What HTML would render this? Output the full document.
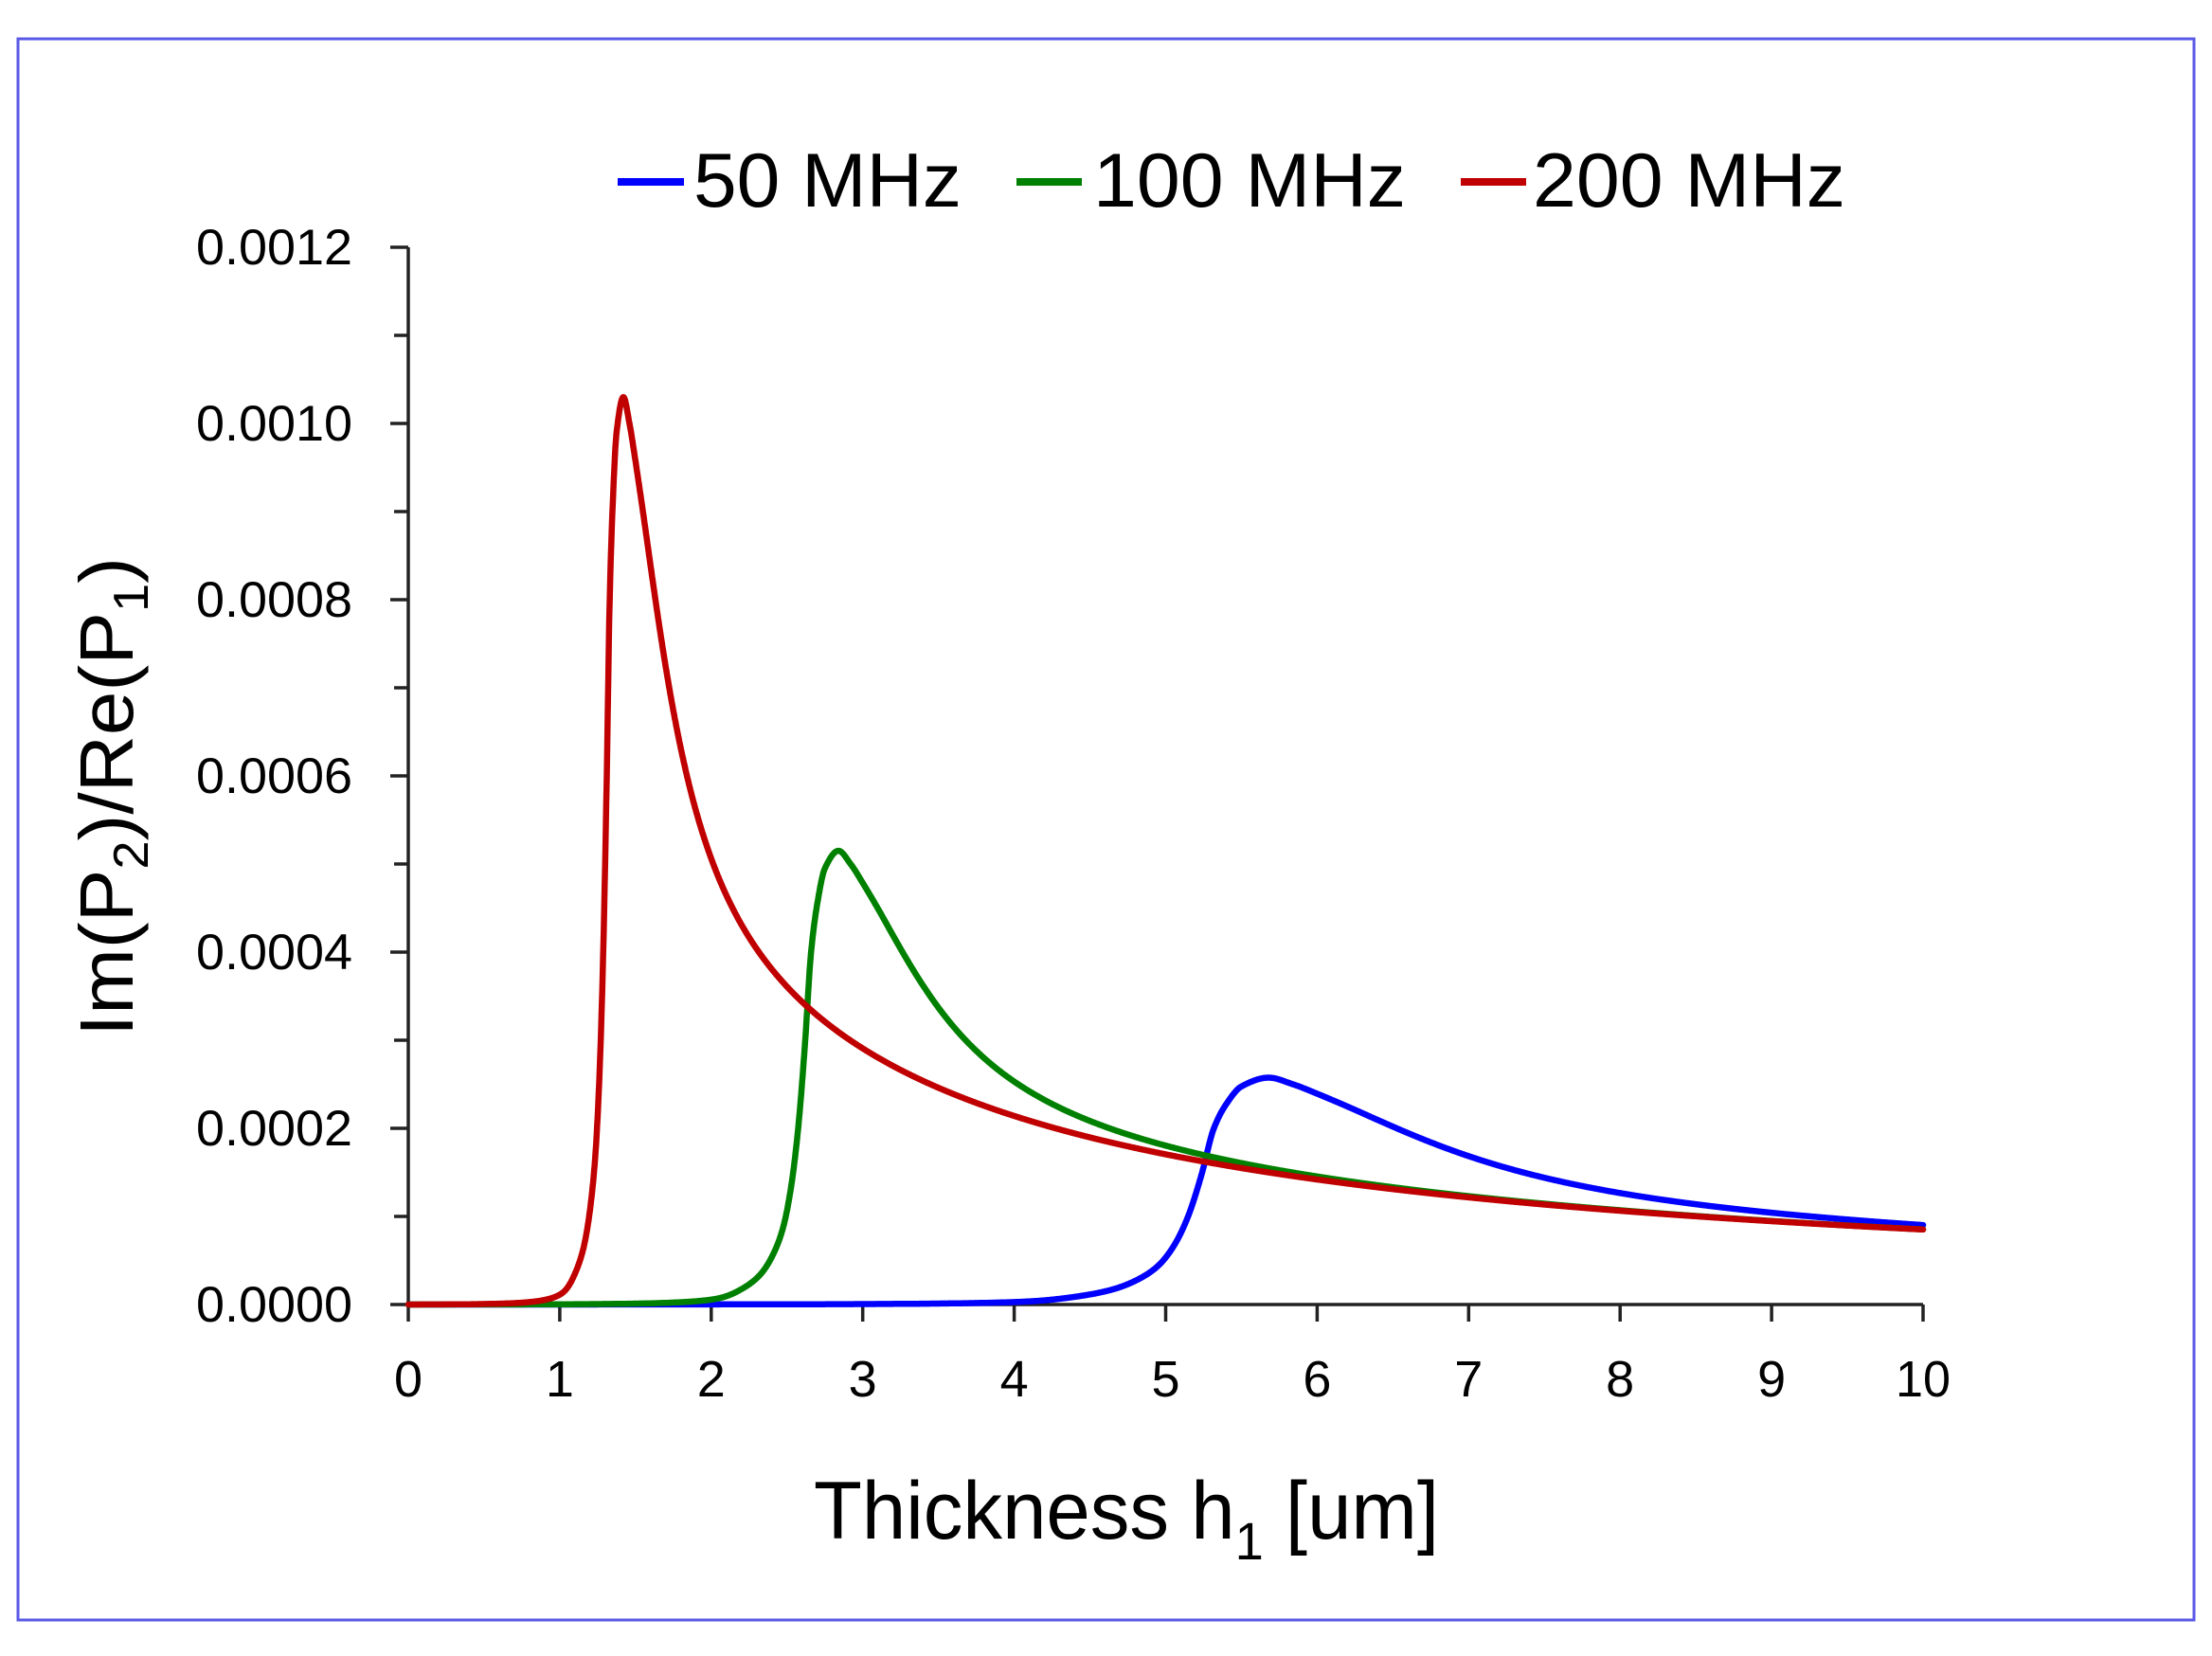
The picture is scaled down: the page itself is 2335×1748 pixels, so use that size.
<!DOCTYPE html>
<html><head><meta charset="utf-8"><style>
html,body{margin:0;padding:0;background:#fff;}
svg{display:block;}
text{font-family:"Liberation Sans",sans-serif;fill:#000;}
</style></head><body>
<svg id="s" width="2335" height="1748" viewBox="0 0 2335 1748" xmlns="http://www.w3.org/2000/svg">
<rect x="0" y="0" width="2335" height="1748" fill="#fff"/>
<rect x="19" y="41" width="2297" height="1669" fill="none" stroke="#5a5ae6" stroke-width="3"/>
<line x1="652" y1="192" x2="722" y2="192" stroke="#0000ff" stroke-width="8"/>
<text x="732" y="218" font-size="81" textLength="283" lengthAdjust="spacingAndGlyphs">50 MHz</text>
<line x1="1073" y1="192" x2="1142" y2="192" stroke="#008000" stroke-width="8"/>
<text x="1154" y="218" font-size="81" textLength="330" lengthAdjust="spacingAndGlyphs">100 MHz</text>
<line x1="1542" y1="192" x2="1611" y2="192" stroke="#c00000" stroke-width="8"/>
<text x="1618" y="218" font-size="81" textLength="330" lengthAdjust="spacingAndGlyphs">200 MHz</text>
<g id="axes" stroke="#222" stroke-width="3.5" fill="none"></g>
<g id="ylab" font-size="53" text-anchor="end"></g>
<g id="xlab" font-size="54" text-anchor="middle"></g>
<g id="curves" fill="none" stroke-width="6.5" stroke-linejoin="round" stroke-linecap="round"></g>
<text x="859" y="1624" font-size="86" textLength="660" lengthAdjust="spacingAndGlyphs">Thickness h<tspan font-size="56" dy="22">1</tspan><tspan dy="-22"> [um]</tspan></text>
<text transform="translate(140,1094) rotate(-90)" font-size="80" textLength="506" lengthAdjust="spacingAndGlyphs">Im(P<tspan font-size="52" dy="16">2</tspan><tspan dy="-16">)/Re(P</tspan><tspan font-size="52" dy="16">1</tspan><tspan dy="-16">)</tspan></text>
</svg>
<script>
(function(){
var NS="http://www.w3.org/2000/svg";
var X0=431,XU=159.9,Y0=1377,YU=186/0.0002;
function px(h){return X0+h*XU;}
function py(v){return Y0-v*YU;}
function el(t,a,p){var e=document.createElementNS(NS,t);for(var k in a)e.setAttribute(k,a[k]);p.appendChild(e);return e;}
var ax=document.getElementById('axes');
el('line',{x1:X0,y1:261,x2:X0,y2:Y0},ax);
el('line',{x1:X0,y1:Y0,x2:px(10),y2:Y0},ax);
for(var i=0;i<=12;i++){var y=py(i*0.0001);el('line',{x1:(i%2==0?412:416),y1:y,x2:X0,y2:y},ax);}
for(var i=0;i<=10;i++){var x=px(i);el('line',{x1:x,y1:Y0,x2:x,y2:1395},ax);}
var yl=document.getElementById('ylab');
for(var i=0;i<=6;i++){var t=el('text',{x:372,y:py(i*0.0002)+18,textLength:165,lengthAdjust:'spacingAndGlyphs'},yl);t.textContent=(i*0.0002).toFixed(4);}
var xl=document.getElementById('xlab');
for(var i=0;i<=10;i++){var t=el('text',{x:px(i),y:1474},xl);if(i==10){t.setAttribute('textLength',58);t.setAttribute('lengthAdjust','spacingAndGlyphs');}t.textContent=i;}
function dec(u){var d=(u-1.42)/0.36;return 8.55e-4/(u+0.054)*(1+0.776/(1+d*d));}
var P=[[0.3,2e-7],[0.5,6e-7],[0.7,1.6e-6],[0.85,3.8e-6],[0.95,7.5e-6],[1.016,1.3e-5],[1.1,3.5e-5],[1.163,6.9e-5],[1.2,1.08e-4],[1.236,1.72e-4],[1.262,2.6e-4],[1.284,3.8e-4],[1.309,5.88e-4],[1.329,7.96e-4],[1.35,9.1e-4],[1.375,9.9e-4],[1.42,1.03e-3],[1.46,1.0e-3]];
for(var u=1.5;u<=10.001;u+=0.05)P.push([u,dec(u)]);
var n=P.length,xs=P.map(function(p){return p[0]}),ys=P.map(function(p){return Math.log(p[1])});
var d=[],m=[];
for(var i=0;i<n-1;i++)d.push((ys[i+1]-ys[i])/(xs[i+1]-xs[i]));
m[0]=d[0];m[n-1]=d[n-2];
for(var i=1;i<n-1;i++){if(d[i-1]*d[i]<=0)m[i]=0;else{var w1=2*(xs[i+1]-xs[i])+(xs[i]-xs[i-1]),w2=(xs[i+1]-xs[i])+2*(xs[i]-xs[i-1]);m[i]=(w1+w2)/(w1/d[i-1]+w2/d[i]);}}
function g(u){
 if(u<0.3)return 2e-7*u/0.3;
 if(u>=10)return dec(u);
 var i=0;while(i<n-2&&u>xs[i+1])i++;
 var h=xs[i+1]-xs[i],t=(u-xs[i])/h,t2=t*t,t3=t2*t;
 return Math.exp((2*t3-3*t2+1)*ys[i]+(t3-2*t2+t)*h*m[i]+(-2*t3+3*t2)*ys[i+1]+(t3-t2)*h*m[i+1]);
}
var cg=document.getElementById('curves');
var S=[[4,'#0000ff'],[2,'#008000'],[1,'#c00000']];
S.forEach(function(s){
 var k=s[0],pts=[];
 for(var j=0;j<=3000;j++){var h=j*10/3000;var v=g(h/k)/k;pts.push(px(h).toFixed(1)+','+py(v).toFixed(1));}
 el('path',{d:'M'+pts.join('L'),stroke:s[1]},cg);
});
})();
</script>
</body></html>
